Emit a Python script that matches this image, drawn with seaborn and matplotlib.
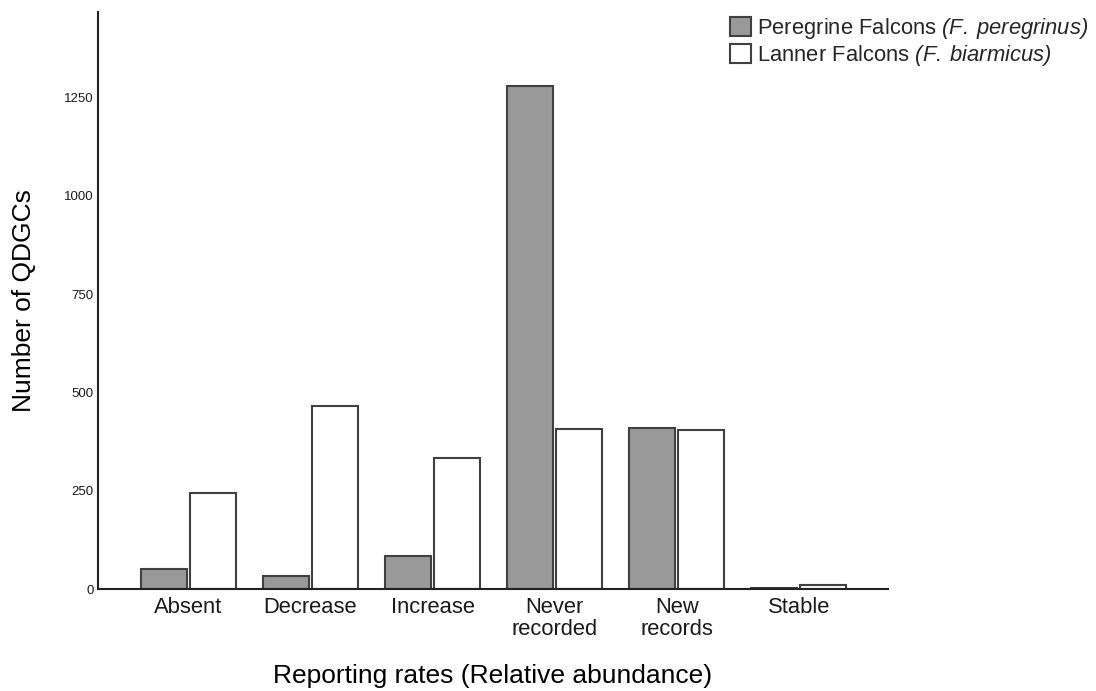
import matplotlib
matplotlib.use("Agg")
import matplotlib.pyplot as plt
import seaborn as sns
import pandas as pd

# Reporting-rate categories (x axis)
categories = ["Absent", "Decrease", "Increase", "Never\nrecorded", "New\nrecords", "Stable"]

# Number of QDGCs per category for each species
peregrine = [51, 33, 85, 1280, 410, 2]
lanner = [245, 466, 333, 406, 404, 9]

species = [
    r"Peregrine Falcons $\mathit{(F.\:peregrinus)}$",
    r"Lanner Falcons $\mathit{(F.\:biarmicus)}$",
]
y_ticks = [0, 250, 500, 750, 1000, 1250]

df = pd.DataFrame({
    "category": categories * 2,
    "count": peregrine + lanner,
    "species": [species[0]] * len(categories) + [species[1]] * len(categories),
})

sns.set_theme(style="white")
plt.rcParams["font.family"] = ["Liberation Sans", "DejaVu Sans"]
# italic scientific names, including their brackets
plt.rcParams["mathtext.fontset"] = "custom"
plt.rcParams["mathtext.rm"] = "Liberation Sans:italic"
plt.rcParams["mathtext.it"] = "Liberation Sans:italic"

fig = plt.figure(figsize=(10.96, 6.91), dpi=100)
ax = fig.add_axes([98 / 1096, 1 - 589 / 691, 790 / 1096, 577 / 691])

sns.barplot(
    data=df, x="category", y="count", hue="species",
    order=categories, hue_order=species,
    palette={species[0]: "#999999", species[1]: "#ffffff"},
    edgecolor="#404040", linewidth=1.5,
    width=0.8, gap=0.06, ax=ax,
)

ax.set_xlim(-0.74, 5.73)
ax.set_ylim(0, 1468)
ax.set_yticks(y_ticks)
ax.set_yticklabels([str(t) for t in y_ticks], fontsize=9.5)

for lab in ax.get_xticklabels():
    lab.set_fontsize(15.8)
    lab.set_linespacing(1.05)
    lab.set_color("#1a1a1a")

ax.tick_params(axis="both", length=0, colors="#1a1a1a")
ax.tick_params(axis="x", pad=6)
ax.tick_params(axis="y", pad=3)

for side in ["top", "right"]:
    ax.spines[side].set_visible(False)
for side in ["left", "bottom"]:
    ax.spines[side].set_color("#222222")
    ax.spines[side].set_linewidth(1.5)

ax.set_xlabel("Reporting rates (Relative abundance)", fontsize=19, color="black")
ax.set_ylabel("Number of QDGCs", fontsize=19, color="black")
ax.xaxis.set_label_coords(0.5, -0.13)
ax.yaxis.set_label_coords(-0.078, 0.5)

handles, labels = ax.get_legend_handles_labels()
ax.legend(
    handles, labels,
    loc="upper left",
    bbox_to_anchor=(730 / 1096, 1 - 16 / 691),
    bbox_transform=fig.transFigure,
    frameon=False, fontsize=15.8,
    borderpad=0, borderaxespad=0,
    handlelength=0.95, handleheight=0.95,
    handletextpad=0.3, labelspacing=0.08,
)

fig.savefig("out.png", dpi=100)
